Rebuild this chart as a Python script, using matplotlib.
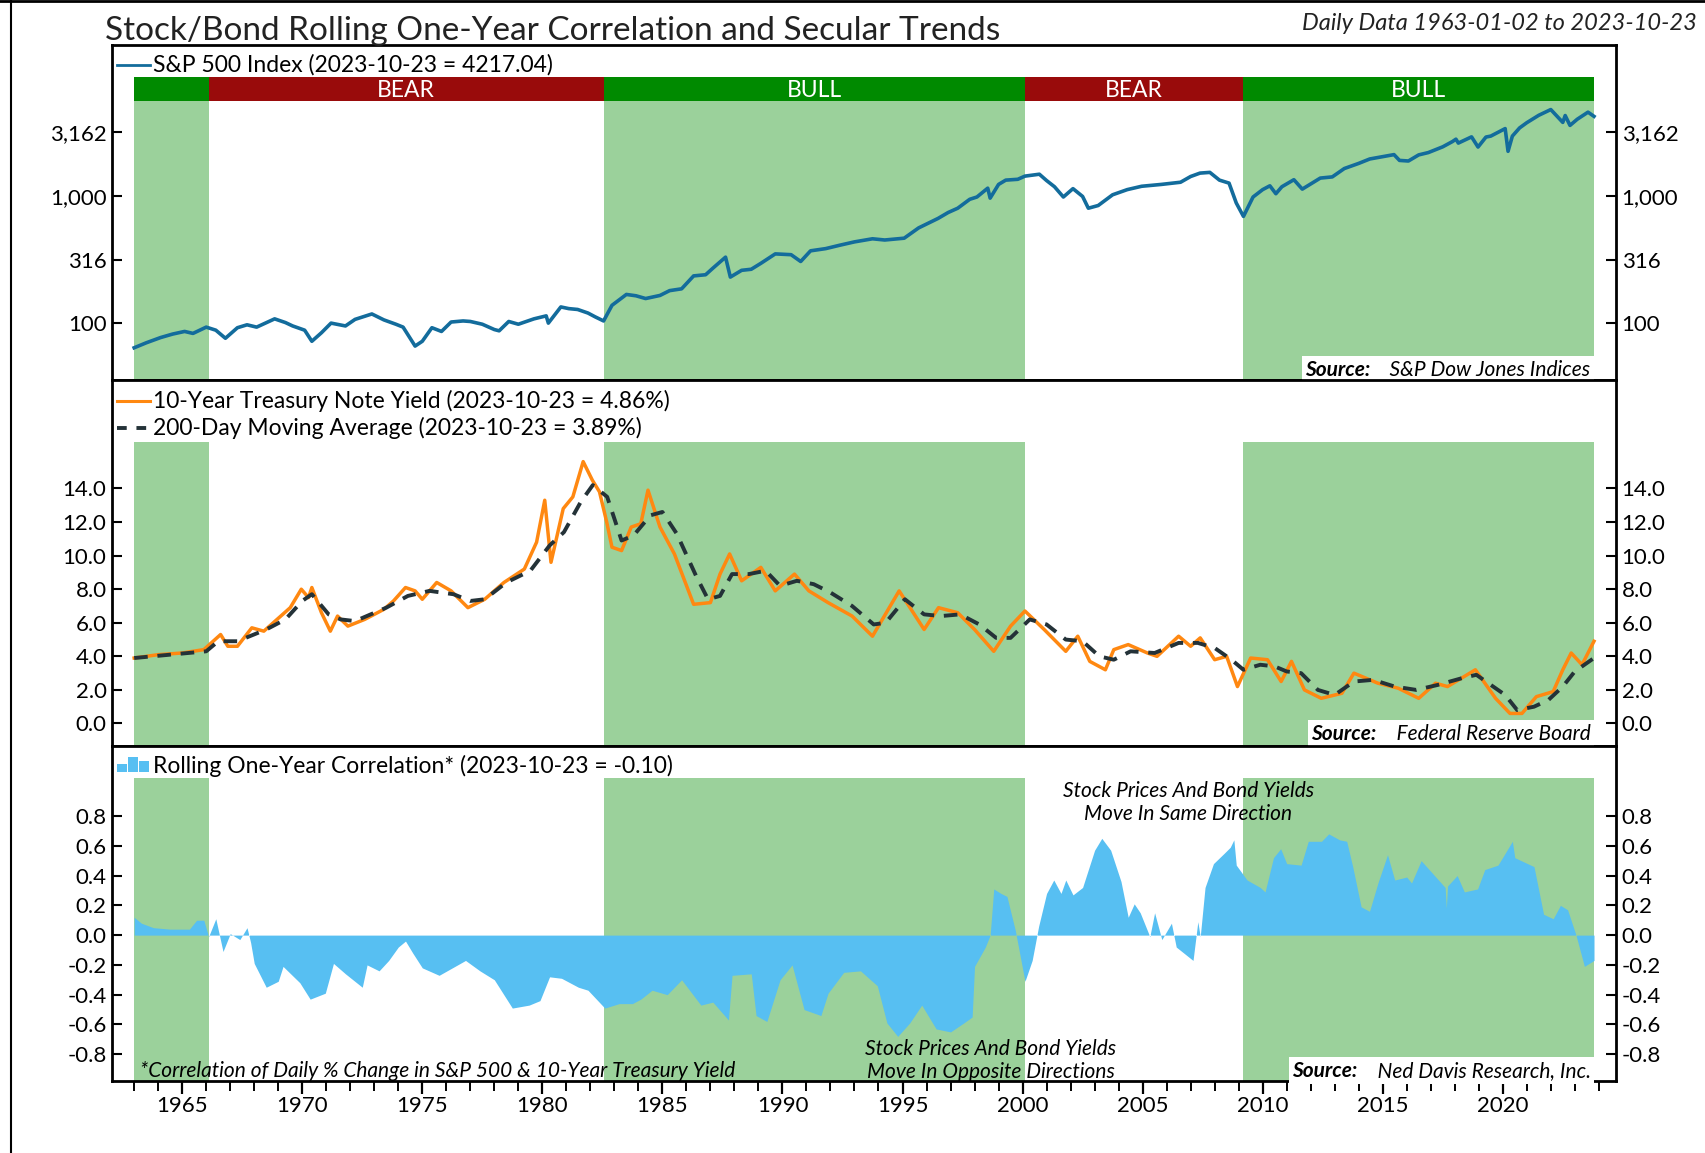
import numpy as np
import matplotlib
matplotlib.use('Agg')
from matplotlib import pyplot as plt
from matplotlib.lines import Line2D
from matplotlib.patches import Rectangle
from matplotlib.ticker import FixedLocator, MultipleLocator

plt.rcParams['font.family'] = ['Lato', 'DejaVu Sans']

# secular trend periods
periods = [(1963.0, 1966.1, 'BULL', ''), (1966.1, 1982.55, 'BEAR', 'BEAR'),
           (1982.55, 2000.1, 'BULL', 'BULL'), (2000.1, 2009.2, 'BEAR', 'BEAR'),
           (2009.2, 2023.8, 'BULL', 'BULL')]

# S&P 500 index
sp_years = [1963.0, 1963.5, 1964.1, 1964.6, 1965.1, 1965.45, 1966.0, 1966.4, 1966.8, 1967.3,
            1967.7, 1968.1, 1968.85, 1969.3, 1969.6, 1970.1, 1970.4, 1970.8, 1971.2, 1971.8,
            1972.2, 1972.9, 1973.4, 1973.9, 1974.2, 1974.7, 1975.0, 1975.4, 1975.8, 1976.2,
            1976.7, 1977.0, 1977.5, 1978.0, 1978.2, 1978.6, 1979.0, 1979.65, 1980.16, 1980.25,
            1980.77, 1981.1, 1981.47, 1981.9, 1982.2, 1982.55, 1982.9, 1983.5, 1983.9, 1984.3,
            1984.9, 1985.3, 1985.8, 1986.3, 1986.8, 1987.1, 1987.63, 1987.83, 1988.3, 1988.7,
            1989.1, 1989.7, 1990.36, 1990.76, 1991.17, 1991.8, 1992.4, 1993.0, 1993.75, 1994.26,
            1995.07, 1995.67, 1996.48, 1996.9, 1997.3, 1997.8, 1998.1, 1998.55, 1998.65, 1999.0,
            1999.3, 1999.8, 2000.1, 2000.7, 2001.0, 2001.33, 2001.7, 2002.1, 2002.5, 2002.74,
            2003.15, 2003.75, 2004.36, 2004.96, 2005.77, 2006.58, 2007.0, 2007.39, 2007.8, 2008.2,
            2008.6, 2008.9, 2009.2, 2009.6, 2010.0, 2010.3, 2010.55, 2010.8, 2011.3, 2011.65,
            2012.4, 2012.9, 2013.4, 2014.0, 2014.46, 2015.47, 2015.7, 2016.07, 2016.5, 2016.9,
            2017.5, 2017.9, 2018.05, 2018.15, 2018.7, 2018.97, 2019.3, 2019.5, 2020.1, 2020.22,
            2020.4, 2020.7, 2021.0, 2021.5, 2022.0, 2022.5, 2022.6, 2022.8, 2023.1, 2023.55,
            2023.8]
sp_close = [64, 70, 77, 82, 86, 83, 93, 88, 76, 92,
            97, 93, 108, 101, 95, 88, 72, 84, 100, 95,
            107, 118, 106, 98, 93, 66, 72, 92, 86, 102,
            104, 103, 98, 89, 87, 103, 98, 108, 114, 100,
            134, 130, 128, 120, 112, 104, 138, 168, 164, 156,
            165, 180, 186, 235, 240, 270, 330, 230, 260, 265,
            295, 350, 345, 305, 370, 385, 410, 435, 460, 450,
            465, 560, 665, 740, 800, 940, 980, 1150, 960, 1230,
            1330, 1350, 1430, 1480, 1320, 1180, 980, 1140, 990, 800,
            840, 1020, 1120, 1190, 1230, 1280, 1420, 1510, 1530, 1330,
            1260, 880, 690, 980, 1120, 1200, 1040, 1180, 1340, 1130,
            1380, 1410, 1640, 1800, 1950, 2110, 1900, 1880, 2100, 2190,
            2430, 2670, 2790, 2600, 2910, 2420, 2900, 2950, 3380, 2240,
            2950, 3420, 3760, 4300, 4770, 3780, 4280, 3580, 4000, 4550,
            4217]

# 10-year Treasury yield
ty_years = [1963.0, 1964.0, 1965.0, 1965.9, 1966.6, 1966.9, 1967.3, 1967.9, 1968.4, 1968.95,
            1969.5, 1969.96, 1970.26, 1970.4, 1970.8, 1971.17, 1971.47, 1971.9, 1972.6, 1973.4,
            1973.8, 1974.3, 1974.7, 1975.0, 1975.6, 1976.2, 1976.9, 1977.6, 1978.4, 1979.25,
            1979.76, 1980.1, 1980.36, 1980.87, 1981.27, 1981.7, 1982.08, 1982.38, 1982.68, 1982.9,
            1983.3, 1983.7, 1984.1, 1984.4, 1984.9, 1985.5, 1986.3, 1987.0, 1987.4, 1987.8,
            1988.3, 1989.1, 1989.7, 1990.5, 1991.1, 1991.9, 1992.9, 1993.75, 1994.86, 1995.9,
            1996.5, 1997.3, 1998.0, 1998.8, 1999.5, 2000.1, 2000.9, 2001.8, 2002.3, 2002.8,
            2003.45, 2003.8, 2004.4, 2005.2, 2005.6, 2006.5, 2007.0, 2007.4, 2008.0, 2008.5,
            2008.95, 2009.5, 2010.2, 2010.77, 2011.2, 2011.74, 2012.44, 2013.3, 2013.8, 2014.8,
            2015.65, 2016.5, 2017.2, 2017.7, 2018.86, 2019.7, 2020.3, 2020.8, 2021.4, 2022.1,
            2022.5, 2022.85, 2023.3, 2023.8]
ty_yield = [3.9, 4.1, 4.2, 4.4, 5.3, 4.6, 4.6, 5.7, 5.5, 6.2,
            6.9, 8.0, 7.5, 8.1, 6.6, 5.5, 6.4, 5.8, 6.2, 6.8,
            7.3, 8.1, 7.9, 7.4, 8.4, 7.9, 6.9, 7.4, 8.4, 9.2,
            10.8, 13.3, 9.6, 12.8, 13.5, 15.6, 14.5, 13.8, 12.0, 10.5,
            10.3, 11.7, 11.9, 13.9, 11.7, 10.1, 7.1, 7.2, 8.9, 10.1,
            8.5, 9.3, 7.9, 8.9, 7.9, 7.2, 6.4, 5.2, 7.9, 5.6,
            6.9, 6.6, 5.6, 4.3, 5.8, 6.7, 5.6, 4.3, 5.2, 3.7,
            3.2, 4.4, 4.7, 4.2, 4.0, 5.2, 4.6, 5.1, 3.8, 4.0,
            2.2, 3.9, 3.8, 2.5, 3.7, 2.0, 1.5, 1.8, 3.0, 2.4,
            2.1, 1.5, 2.4, 2.2, 3.2, 1.5, 0.6, 0.6, 1.6, 1.9,
            3.2, 4.2, 3.5, 4.9]

# 200-day moving average of the yield
ma_years = [1963.0, 1966.0, 1966.5, 1967.3, 1968.5, 1969.3, 1970.0, 1970.4, 1971.1, 1971.6,
            1972.2, 1973.5, 1974.4, 1975.3, 1976.3, 1977.0, 1977.6, 1978.5, 1979.5, 1980.3,
            1980.9, 1981.6, 1982.1, 1982.7, 1983.3, 1983.8, 1984.5, 1985.0, 1985.6, 1986.4,
            1986.9, 1987.4, 1987.9, 1988.6, 1989.3, 1989.9, 1990.6, 1991.3, 1992.0, 1992.9,
            1993.8, 1994.3, 1995.1, 1995.9, 1996.6, 1997.4, 1998.2, 1998.9, 1999.5, 2000.3,
            2001.0, 2001.8, 2002.5, 2003.2, 2003.8, 2004.5, 2005.5, 2006.5, 2007.3, 2008.0,
            2008.7, 2009.2, 2009.9, 2010.5, 2011.0, 2011.6, 2012.3, 2013.0, 2013.8, 2014.6,
            2015.5, 2016.4, 2017.3, 2018.3, 2018.9, 2019.5, 2020.1, 2020.6, 2021.3, 2021.9,
            2022.5, 2023.0, 2023.8]
ma_yield = [3.9, 4.3, 4.9, 4.9, 5.6, 6.2, 7.3, 7.7, 6.5, 6.2,
            6.1, 6.9, 7.6, 7.9, 7.7, 7.3, 7.4, 8.4, 9.1, 10.6,
            11.4, 13.2, 14.2, 13.5, 10.9, 11.2, 12.4, 12.6, 11.3, 8.8,
            7.4, 7.6, 8.9, 8.9, 9.1, 8.2, 8.5, 8.3, 7.8, 7.0,
            5.9, 6.0, 7.4, 6.5, 6.4, 6.5, 5.9, 5.1, 5.1, 6.2,
            5.9, 5.0, 4.9, 4.0, 3.8, 4.3, 4.2, 4.8, 4.8, 4.5,
            3.8, 3.2, 3.5, 3.4, 3.1, 3.0, 2.0, 1.7, 2.5, 2.6,
            2.2, 2.0, 2.3, 2.7, 2.9, 2.3, 1.7, 0.8, 1.0, 1.4,
            2.2, 3.1, 3.9]

# rolling one-year correlation
cr_years = [1963.0, 1963.3, 1963.8, 1964.5, 1965.3, 1965.6, 1965.9, 1966.1, 1966.4, 1966.7,
            1967.0, 1967.4, 1967.7, 1967.85, 1968.0, 1968.5, 1969.0, 1969.2, 1969.9, 1970.33,
            1970.96, 1971.3, 1971.8, 1972.5, 1972.7, 1973.2, 1973.6, 1974.0, 1974.3, 1974.6,
            1975.0, 1975.7, 1976.25, 1976.8, 1977.4, 1978.0, 1978.75, 1979.45, 1979.9, 1980.3,
            1980.8, 1981.5, 1981.9, 1982.6, 1983.2, 1983.75, 1984.1, 1984.57, 1985.2, 1985.8,
            1986.6, 1987.1, 1987.75, 1987.9, 1988.7, 1988.9, 1989.35, 1989.9, 1990.4, 1990.9,
            1991.6, 1991.9, 1992.55, 1993.25, 1993.95, 1994.35, 1994.8, 1995.3, 1995.8, 1996.4,
            1997.0, 1997.55, 1997.9, 1998.0, 1998.45, 1998.65, 1998.8, 1999.1, 1999.35, 1999.7,
            2000.1, 2000.4, 2000.67, 2001.0, 2001.3, 2001.6, 2001.8, 2002.1, 2002.5, 2003.0,
            2003.3, 2003.67, 2004.1, 2004.4, 2004.65, 2004.9, 2005.3, 2005.5, 2005.8, 2006.2,
            2006.4, 2007.1, 2007.3, 2007.4, 2007.6, 2007.95, 2008.4, 2008.65, 2008.8, 2008.9,
            2009.35, 2009.9, 2010.1, 2010.45, 2010.75, 2011.0, 2011.6, 2011.9, 2012.45, 2012.75,
            2013.2, 2013.5, 2013.75, 2014.1, 2014.45, 2014.8, 2015.2, 2015.5, 2016.0, 2016.2,
            2016.6, 2017.1, 2017.6, 2017.65, 2017.7, 2018.1, 2018.4, 2018.95, 2019.25, 2019.8,
            2020.4, 2020.5, 2021.3, 2021.7, 2022.1, 2022.4, 2022.7, 2023.05, 2023.4, 2023.8]
cr_value = [0.12, 0.08, 0.05, 0.04, 0.04, 0.10, 0.10, -0.01, 0.11, -0.11,
            0.01, -0.03, 0.05, -0.05, -0.19, -0.35, -0.31, -0.21, -0.32, -0.43,
            -0.39, -0.19, -0.26, -0.35, -0.20, -0.24, -0.17, -0.08, -0.04, -0.12,
            -0.22, -0.27, -0.22, -0.17, -0.24, -0.30, -0.49, -0.47, -0.44, -0.28,
            -0.29, -0.35, -0.37, -0.49, -0.46, -0.46, -0.43, -0.37, -0.40, -0.30,
            -0.47, -0.45, -0.57, -0.27, -0.26, -0.54, -0.58, -0.30, -0.20, -0.50,
            -0.54, -0.39, -0.25, -0.24, -0.34, -0.59, -0.68, -0.59, -0.47, -0.63,
            -0.65, -0.59, -0.55, -0.21, -0.08, 0.00, 0.31, 0.28, 0.26, 0.03,
            -0.31, -0.17, 0.06, 0.28, 0.37, 0.28, 0.37, 0.27, 0.32, 0.57,
            0.65, 0.57, 0.36, 0.12, 0.21, 0.15, -0.01, 0.15, -0.03, 0.08,
            -0.08, -0.17, 0.09, -0.01, 0.32, 0.48, 0.55, 0.59, 0.64, 0.47,
            0.37, 0.32, 0.29, 0.52, 0.58, 0.48, 0.47, 0.63, 0.63, 0.68,
            0.64, 0.63, 0.46, 0.19, 0.16, 0.35, 0.54, 0.37, 0.39, 0.35,
            0.50, 0.41, 0.32, 0.18, 0.33, 0.40, 0.29, 0.31, 0.44, 0.47,
            0.63, 0.52, 0.46, 0.14, 0.11, 0.20, 0.17, 0.00, -0.21, -0.17]

sp_ticks = [100, 316, 1000, 3162]
ty_ticks = [0, 2, 4, 6, 8, 10, 12, 14]
cr_ticks = [-0.8, -0.6, -0.4, -0.2, 0.0, 0.2, 0.4, 0.6, 0.8]

GREEN = '#008a00'
RED = '#990b0b'
SHADE = '#9bd19b'
BLUE = '#136c9c'
ORANGE = '#ff8811'
SKY = '#57bff2'
DASH = '#243238'

fig = plt.figure(figsize=(17.06, 11.53), dpi=100)
left, width = 0.0657, 0.8816
ax1 = fig.add_axes([left, 0.6704, width, 0.2906])
ax2 = fig.add_axes([left, 0.3530, width, 0.3174], sharex=ax1)
ax3 = fig.add_axes([left, 0.0624, width, 0.2906], sharex=ax1)

shade_top = {ax1: 0.833, ax2: 0.831, ax3: 0.904}
for ax in (ax1, ax2, ax3):
    for start, end, kind, label in periods:
        if kind == 'BULL':
            ax.axvspan(start, end, ymin=0, ymax=shade_top[ax], color=SHADE, lw=0, zorder=0)

# header band with secular trend labels
for start, end, kind, label in periods:
    ax1.axvspan(start, end, ymin=0.833, ymax=0.904, color=GREEN if kind == 'BULL' else RED,
                lw=0, zorder=1)
    if label:
        ax1.text((start + end) / 2, 0.864, label, transform=ax1.get_xaxis_transform(),
                 ha='center', va='center', color='white', fontsize=16.5, zorder=2)

LEG = 16.5

# panel 1: S&P 500
ax1.plot(sp_years, sp_close, color=BLUE, lw=2.6, zorder=3)
ax1.set_yscale('log')
ax1.set_ylim(35.7, 15350)
ax1.plot([0.003, 0.025], [0.94, 0.94], color=BLUE, lw=2, transform=ax1.transAxes)
ax1.text(0.027, 0.94, 'S&P 500 Index (2023-10-23 = 4217.04)', transform=ax1.transAxes,
         va='center', fontsize=LEG)

# panel 2: treasury yield
ax2.plot(ty_years, ty_yield, color=ORANGE, lw=2.5, zorder=3)
ax2.plot(ma_years, ma_yield, color=DASH, lw=2.8, dashes=(3.5, 2.5), zorder=4)
ax2.set_ylim(-1.34, 20.46)
ax2.plot([0.003, 0.025], [0.942, 0.942], color=ORANGE, lw=2.2, transform=ax2.transAxes)
ax2.text(0.027, 0.942, '10-Year Treasury Note Yield (2023-10-23 = 4.86%)',
         transform=ax2.transAxes, va='center', fontsize=LEG)
ax2.plot([0.003, 0.025], [0.868, 0.868], color=DASH, lw=2.8, dashes=(2.5, 2.5),
         transform=ax2.transAxes)
ax2.text(0.027, 0.868, '200-Day Moving Average (2023-10-23 = 3.89%)',
         transform=ax2.transAxes, va='center', fontsize=LEG)

# panel 3: correlation
ax3.fill_between(cr_years, 0, cr_value, color=SKY, lw=0, zorder=3)
ax3.set_ylim(-0.98, 1.27)
for i, h in enumerate([0.025, 0.045, 0.032]):
    ax3.add_patch(Rectangle((0.003 + i * 0.0075, 0.922), 0.0068, h, transform=ax3.transAxes,
                            color=SKY, lw=0, clip_on=False))
ax3.text(0.027, 0.94, 'Rolling One-Year Correlation* (2023-10-23 = -0.10)',
         transform=ax3.transAxes, va='center', fontsize=LEG)

NOTE = 15
ax3.text(2006.9, 0.89, 'Stock Prices And Bond Yields\nMove In Same Direction',
         ha='center', va='center', fontsize=NOTE, style='italic', linespacing=1.2, zorder=5)
ax3.text(1998.67, -0.84, 'Stock Prices And Bond Yields\nMove In Opposite Directions',
         ha='center', va='center', fontsize=NOTE, style='italic', linespacing=1.2, zorder=5)
ax3.text(1963.25, -0.915, '*Correlation of Daily % Change in S&P 500 & 10-Year Treasury Yield',
         ha='left', va='center', fontsize=NOTE, style='italic', zorder=5)


def add_source(ax, y, name):
    t = ax.text(0.983, y, '    ' + name, transform=ax.transAxes, ha='right', va='center',
                fontsize=NOTE, style='italic', zorder=6,
                bbox=dict(facecolor='white', edgecolor='none', pad=2.5))
    ax.annotate('Source:', xy=(0, 0.5), xycoords=t, xytext=(0, 0),
                textcoords='offset points', ha='right', va='center', fontsize=NOTE,
                style='italic', weight='bold', zorder=6,
                bbox=dict(facecolor='white', edgecolor='none', pad=2.5))


add_source(ax1, 0.031, 'S&P Dow Jones Indices')
add_source(ax2, 0.033, 'Federal Reserve Board')
add_source(ax3, 0.031, 'Ned Davis Research, Inc.')

# axes formatting
ax1.set_xlim(1962.08, 2024.72)
tick_sets = [(ax1, sp_ticks, ['100', '316', '1,000', '3,162']),
             (ax2, ty_ticks, ['%.1f' % v for v in ty_ticks]),
             (ax3, cr_ticks, ['%.1f' % v for v in cr_ticks])]
for ax, ticks, labels in tick_sets:
    ax.yaxis.set_major_locator(FixedLocator(ticks))
    ax.yaxis.set_minor_locator(FixedLocator([]))
    ax.set_yticklabels(labels)
    ax.tick_params(axis='y', which='both', direction='in', length=7, width=1.5,
                   left=True, right=True, labelleft=True, labelright=True,
                   labelsize=16, pad=4)
    for s in ax.spines.values():
        s.set_linewidth(2)
        s.set_color('black')

for ax in (ax1, ax2):
    ax.tick_params(axis='x', which='both', bottom=False, labelbottom=False)

ax3.xaxis.set_major_locator(MultipleLocator(5))
ax3.xaxis.set_minor_locator(MultipleLocator(1))
ax3.xaxis.set_major_formatter(lambda v, p: '%d' % v)
ax3.tick_params(axis='x', which='major', direction='out', length=9, width=1.6,
                labelsize=16, pad=2)
ax3.tick_params(axis='x', which='minor', direction='out', length=7, width=1.4)

fig.text(0.0618, 0.973, 'Stock/Bond Rolling One-Year Correlation and Secular Trends',
         ha='left', va='center', fontsize=24, color='#222222')
fig.text(0.9947, 0.980, 'Daily Data 1963-01-02 to 2023-10-23', ha='right', va='center',
         fontsize=17, style='italic', color='#222222')

fig.add_artist(Line2D([0.0065, 0.0065], [0, 1], color='black', lw=1.5))
fig.add_artist(Line2D([0, 1], [0.999, 0.999], color='black', lw=2))

fig.savefig('out.png', dpi=100)
